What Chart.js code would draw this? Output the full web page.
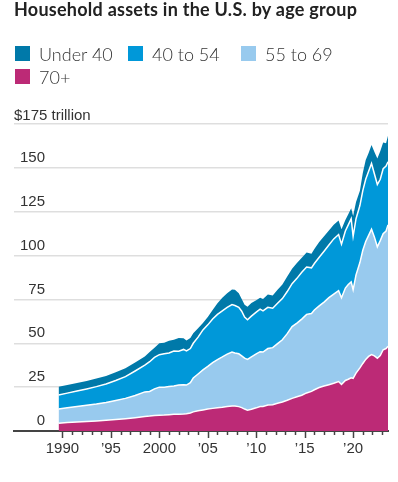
<!DOCTYPE html>
<html lang="en">
<head>
    <meta charset="UTF-8">
    <title>Household assets in the U.S. by age group</title>
    <script src="https://cdn.jsdelivr.net/npm/chart.js"></script>
    <style>
        body {
            margin: 0;
            background: #fff;
            font-family: Lato, "Noto Sans", sans-serif;
        }
        .wrap {
            position: relative;
            width: 398px;
            height: 482px;
            overflow: hidden;
        }
        .title {
            position: absolute;
            left: 14px;
            top: -1px;
            font-size: 18px;
            line-height: 20px;
            letter-spacing: 0.25px;
            font-weight: 700;
            color: #222;
            white-space: nowrap;
        }
        .legend {
            position: absolute;
            left: 15px;
            top: 42px;
            display: grid;
            grid-template-columns: 113px 113px 113px;
            grid-auto-rows: 23px;
        }
        .legend div {
            display: flex;
            align-items: center;
            font-size: 18px;
            font-weight: 300;
            color: #333;
            white-space: nowrap;
        }
        .legend span {
            display: inline-block;
            width: 15px;
            height: 15px;
            margin-right: 9px;
        }
        .note {
            position: absolute;
            left: 14px;
            top: 480px;
            font-size: 13px;
            line-height: 16px;
            color: #777;
        }
        #chart {
            position: absolute;
            left: 0;
            top: 0;
        }
    </style>
</head>
<body>
<div class="wrap">
    <canvas id="chart" width="398" height="482"></canvas>
    <div class="title">Household assets in the U.S. by age group</div>
    <div class="legend" id="legend"></div>
    <div class="note">Source: Federal Reserve</div>
</div>
<script>
// stacked layers, trillions of dollars
const years = [1989.6, 1990.5, 1991.5, 1992.5, 1993.5, 1994.5, 1995.5, 1996.5, 1997.5, 1998.5,
    1999.0, 1999.5, 2000.0, 2000.5, 2001.0, 2001.5, 2002.0, 2002.5, 2002.8, 2003.2,
    2003.5, 2004.0, 2004.5, 2005.0, 2005.5, 2006.0, 2006.5, 2007.0, 2007.5, 2007.8,
    2008.2, 2008.5, 2008.8, 2009.1, 2009.5, 2010.0, 2010.4, 2010.7, 2011.2, 2011.7,
    2012.2, 2012.7, 2013.2, 2013.7, 2014.2, 2014.7, 2015.2, 2015.7, 2016.0, 2016.5,
    2017.0, 2017.5, 2018.0, 2018.5, 2018.8, 2019.2, 2019.5, 2019.8, 2020.0, 2020.3,
    2020.7, 2021.0, 2021.3, 2021.6, 2021.9, 2022.2, 2022.5, 2022.8, 2023.1, 2023.4, 2023.6];

const age70plus = [4.4, 4.8, 5.1, 5.4, 5.7, 6.1, 6.5, 7.0, 7.6, 8.3,
    8.5, 8.9, 9.0, 9.1, 9.3, 9.5, 9.6, 9.7, 9.8, 10.3,
    10.9, 11.5, 12.0, 12.5, 12.9, 13.3, 13.6, 14.0, 14.3, 14.2,
    13.9, 13.3, 12.5, 11.9, 12.4, 13.2, 14.0, 14.0, 14.8, 15.0,
    15.8, 16.5, 17.5, 18.6, 19.5, 20.4, 21.7, 22.6, 23.5, 24.8,
    25.6, 26.4, 27.2, 28.2, 26.5, 28.8, 29.5, 30.3, 30.0, 33.0,
    36.0, 38.5, 40.8, 42.5, 43.6, 42.8, 41.5, 43.0, 46.3, 47.0, 48.3];

const age55to69 = [8.1, 8.4, 8.9, 9.3, 9.7, 10.2, 10.9, 11.6, 12.6, 14.0,
    14.0, 15.1, 16.0, 15.9, 16.0, 16.1, 16.6, 16.7, 16.4, 17.2,
    19.3, 21.0, 22.8, 24.3, 26.1, 27.4, 28.6, 29.8, 30.7, 30.3,
    30.1, 29.5, 29.0, 28.9, 29.8, 30.8, 31.2, 31.0, 32.2, 32.5,
    34.0, 35.5, 38.0, 40.9, 42.0, 43.4, 44.8, 44.4, 45.5, 46.5,
    47.9, 49.6, 50.8, 51.8, 49.5, 52.7, 54.0, 54.7, 50.5, 56.0,
    60.0, 64.5, 67.2, 69.0, 71.4, 67.7, 63.5, 65.5, 66.2, 67.0, 69.2];

const age40to54 = [8.0, 8.4, 8.8, 9.3, 9.9, 10.5, 11.4, 12.4, 14.0, 15.2,
    17.0, 18.0, 18.5, 19.0, 19.2, 20.0, 19.3, 20.1, 19.4, 19.5,
    19.8, 21.0, 22.8, 23.7, 24.8, 25.8, 26.3, 26.7, 27.1, 27.0,
    26.5, 25.5, 23.5, 22.6, 23.3, 23.8, 24.3, 23.5, 23.5, 22.5,
    23.0, 23.5, 24.0, 24.5, 25.5, 26.7, 27.0, 26.0, 26.5, 27.7,
    29.0, 30.0, 31.5, 32.0, 30.5, 32.5, 34.0, 36.0, 30.5, 32.0,
    32.5, 34.0, 35.5, 36.5, 37.5, 36.0, 35.5, 35.0, 37.0, 37.0, 36.0];

const under40 = [4.7, 4.6, 4.5, 4.5, 4.6, 4.5, 4.7, 4.8, 4.8, 5.0,
    5.5, 5.5, 6.5, 6.3, 7.0, 6.4, 7.5, 6.3, 6.0, 6.0,
    5.7, 5.0, 3.9, 4.5, 5.2, 6.3, 7.5, 8.0, 8.6, 9.0,
    8.0, 7.0, 7.0, 7.4, 7.5, 6.7, 6.5, 6.8, 7.3, 7.2,
    7.7, 8.0, 8.5, 8.5, 8.8, 8.3, 8.3, 8.0, 8.3, 8.8,
    8.5, 8.3, 8.0, 8.0, 8.5, 6.3, 6.0, 6.0, 11.5, 9.5,
    8.5, 10.0, 11.0, 10.5, 10.5, 12.5, 14.8, 16.0, 15.0, 13.0, 14.8];

const groupNames = ["Under 40", "40 to 54", "55 to 69", "70+"];
const groupColors = ["#0079a9", "#0098d9", "#98caee", "#bc2a76"];

const yTicks = [0, 25, 50, 75, 100, 125, 150, 175];
const xTickYears = [1990, 1995, 2000, 2005, 2010, 2015, 2020];
const xTickLabels = ["1990", "\u201995", "2000", "\u201905", "\u201910", "\u201915", "\u201920"];
const minorYears = [];
for (let y = 1990; y <= 2023; y++) minorYears.push(y);

// legend
const legend = document.getElementById("legend");
groupNames.forEach((name, i) => {
    const item = document.createElement("div");
    item.innerHTML = '<span style="background:' + groupColors[i] + '"></span>' + name;
    legend.appendChild(item);
});

const pts = arr => arr.map((v, i) => ({ x: years[i], y: v }));
const axisFont = { family: "'Liberation Sans', Arial, sans-serif", size: 15 };

// yearly tick marks under the axis, longer at the labelled years
const tickMarks = {
    id: "tickMarks",
    afterDraw(chart) {
        const ctx = chart.ctx;
        const xs = chart.scales.x;
        const base = chart.chartArea.bottom;
        ctx.save();
        ctx.strokeStyle = "#444";
        ctx.lineWidth = 1.5;
        minorYears.forEach(yr => {
            const px = Math.round(xs.getPixelForValue(yr)) + 0.5;
            const len = yr % 5 === 0 ? 7 : 4;
            ctx.beginPath();
            ctx.moveTo(px, base);
            ctx.lineTo(px, base + len);
            ctx.stroke();
        });
        // unit label on top gridline
        const ys = chart.scales.y;
        ctx.fillStyle = "#333";
        ctx.font = axisFont.size + "px " + axisFont.family;
        ctx.textAlign = "left";
        ctx.textBaseline = "alphabetic";
        ctx.fillText("$175 trillion", chart.chartArea.left, ys.getPixelForValue(175) - 4);
        ctx.restore();
    }
};

const order = [3, 2, 1, 0];
const series = [under40, age40to54, age55to69, age70plus];

new Chart(document.getElementById("chart"), {
    type: "line",
    data: {
        datasets: order.map((k, i) => ({
            label: groupNames[k],
            data: pts(series[k]),
            backgroundColor: groupColors[k],
            borderColor: "#fff",
            borderWidth: k === 0 ? 0 : 1.5,
            pointRadius: 0,
            tension: 0,
            fill: i === 0 ? "origin" : "-1"
        }))
    },
    options: {
        responsive: false,
        animation: false,
        layout: { padding: { top: 124, left: 2, right: 10, bottom: 15 } },
        plugins: { legend: { display: false }, tooltip: { enabled: false } },
        scales: {
            x: {
                type: "linear",
                min: 1985,
                max: 2023.6,
                z: 2,
                afterBuildTicks: s => { s.ticks = xTickYears.map(v => ({ value: v })); },
                grid: { display: false, drawTicks: false },
                border: { display: true, color: "#444", width: 2 },
                ticks: {
                    autoSkip: false,
                    maxRotation: 0,
                    padding: 9,
                    color: "#333",
                    font: axisFont,
                    callback: (v, i) => xTickLabels[i]
                }
            },
            y: {
                stacked: true,
                min: 0,
                max: 175,
                z: 1,
                afterBuildTicks: s => { s.ticks = yTicks.map(v => ({ value: v })); },
                border: { display: false },
                grid: {
                    drawTicks: false,
                    lineWidth: 1.5,
                    color: c => c.tick && c.tick.value === 0 ? "rgba(0,0,0,0)" : "rgba(218,218,218,0.9)"
                },
                ticks: {
                    mirror: true,
                    crossAlign: "far",
                    padding: 6,
                    labelOffset: -10,
                    color: "#333",
                    font: axisFont,
                    callback: v => v === 175 ? "" : v
                }
            }
        }
    },
    plugins: [tickMarks]
});
</script>
</body>
</html>
